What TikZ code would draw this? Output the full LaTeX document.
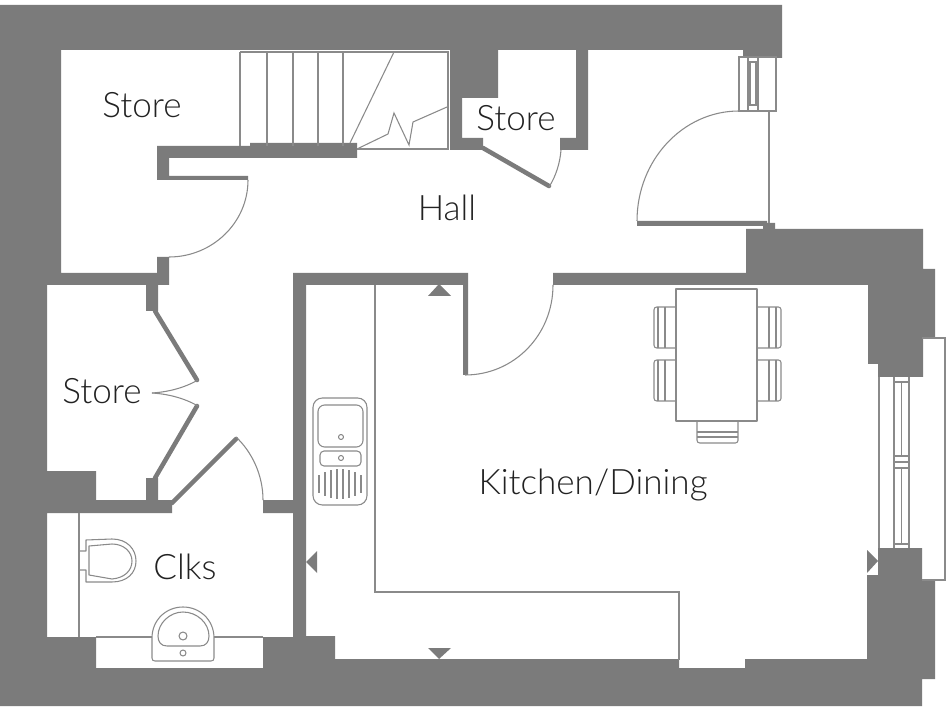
\documentclass[tikz,border=0pt]{standalone}
\usepackage{fontspec}
\setmainfont{Lato Light}
\definecolor{wallgrey}{HTML}{7B7B7B}
\definecolor{linegrey}{HTML}{8A8A8A}
\definecolor{labelgrey}{HTML}{222222}
\tikzset{
	every node/.style={font=\fontsize{26.3pt}{30pt}\selectfont, text=labelgrey, inner sep=0pt}
}
\tikzset{
	wall/.style={fill=wallgrey, draw=none},
	leaf/.style={draw=wallgrey, line width=3.4pt, line cap=round},
	thin/.style={draw=linegrey, line width=0.8pt},
	fit/.style={draw=linegrey, line width=0.8pt, line join=round}
}

\begin{document}
\begin{tikzpicture}[x=0.75pt, y=-0.75pt]
	\useasboundingbox (0,0) rectangle (952,712);

	% walls
	\path[wall] (0,5) -- (782,5) -- (782,58) -- (743,58) -- (743,50) -- (498,50) -- (498,98)
		-- (462,98) -- (462,138) -- (483,138) -- (483,150) -- (450,150) -- (450,50) -- (61,50)
		-- (61,273) -- (157,273) -- (157,257) -- (169,257) -- (169,285) -- (158,285) -- (158,311)
		-- (146,311) -- (146,285) -- (47,285) -- (47,471) -- (96,471) -- (96,500) -- (146,500)
		-- (146,478) -- (158,478) -- (158,500) -- (172,500) -- (172,513) -- (47,513) -- (47,637)
		-- (96,637) -- (96,668) -- (263,668) -- (263,637) -- (293,637) -- (293,513) -- (263,513)
		-- (263,500) -- (293,500) -- (293,273) -- (468,273) -- (468,375) -- (463,375) -- (463,285)
		-- (306,285) -- (306,636) -- (335,636) -- (335,659) -- (679,659) -- (679,668) -- (745,668)
		-- (745,659) -- (867,659) -- (867,575) -- (878,575) -- (878,548) -- (922,548) -- (922,580)
		-- (935,580) -- (935,679) -- (922,679) -- (922,706) -- (0,706) -- cycle;
	\path[wall] (553,273) -- (746,273) -- (746,229) -- (923,229) -- (923,269) -- (935,269)
		-- (935,338) -- (923,338) -- (923,377) -- (878,377) -- (878,364) -- (868,364)
		-- (868,285) -- (553,285) -- cycle;
	\path[wall] (157,146) -- (250,146) -- (250,143) -- (357,143) -- (357,158) -- (169,158)
		-- (169,176) -- (248,176) -- (248,180) -- (157,180) -- cycle;
	\path[wall] (576,45) -- (588,45) -- (588,150) -- (560,150) -- (560,138) -- (576,138) -- cycle;
	\path[wall] (637,221) -- (767,221) -- (767,223) -- (775,223) -- (775,230) -- (763,230)
		-- (763,226) -- (637,226) -- cycle;

	% direction marks
	\path[wall] (428,296) -- (439,284) -- (451,296) -- cycle;
	\path[wall] (428,648) -- (451,648) -- (439,659) -- cycle;
	\path[wall] (317,551) -- (317,573) -- (306,562) -- cycle;
	\path[wall] (867,550) -- (867,573) -- (878,561) -- cycle;

	% door leaves and swings
	\draw[leaf] (155,311) -- (197,380);
	\draw[leaf] (155,478) -- (197,406);
	\draw[leaf] (172,503) -- (236,439);
	\draw[leaf] (483,148) -- (549,186);
	\draw[thin] (198,380) .. controls (184,388) and (168,392) .. (152,393);
	\draw[thin] (198,406) .. controls (184,398) and (168,394) .. (152,393);
	\draw[thin] (236,437) .. controls (252,452) and (263,475) .. (263,500);
	\draw[thin] (248,180) .. controls (248,223) and (212,257) .. (169,257);
	\draw[thin] (553,285) .. controls (553,335) and (514,375) .. (465,375);
	\draw[thin] (739,111) .. controls (683,111) and (637,160) .. (637,221);
	\draw[thin] (549,187) .. controls (556,176) and (560,163) .. (561,150);

	% stairs
	\draw[thin] (240,52) -- (448,52) -- (448,149) -- (357,149);
	\foreach \tread in {240,267,293,318,343}
		\draw[thin] (\tread,52) -- (\tread,146);
	\draw[thin] (350,143) -- (394,52);
	\draw[thin] (357,149) -- (388,134) -- (394,113) -- (409,145) -- (413,122) -- (447,107);

	% front door window
	\draw[thin] (739,57) rectangle (776,111);
	\draw[thin] (748,57) -- (748,111);
	\draw[thin] (758,57) -- (758,111);
	\draw[thin] (750,62) rectangle (756,105);
	\draw[thin] (769,111) -- (769,223);

	% rear window
	\draw[thin] (922,338) -- (945,338) -- (945,580) -- (922,580);
	\draw[thin] (879,377) -- (879,548);
	\draw[thin] (894,377) -- (894,548);
	\draw[thin] (909,377) -- (909,548);
	\foreach \bar in {382,456,462,468,544}
		\draw[thin] (894,\bar) -- (909,\bar);
	\draw[thin] (901.5,382) -- (901.5,456);
	\draw[thin] (901.5,468) -- (901.5,544);

	% worktop
	\draw[thin] (375,285) -- (375,592) -- (679,592) -- (679,660);

	% table and chairs
	\draw[fit] (676,289) rectangle (757,421);
	\foreach \seat in {307,360} {
		\draw[fit] (676,\seat) -- (658,\seat) [rounded corners=2pt] -- (654,\seat) -- (654,\seat+41) [sharp corners] -- (676,\seat+41);
		\draw[fit] (658,\seat) -- (658,\seat+41);
		\draw[fit] (665,\seat) -- (665,\seat+41);
		\draw[fit] (757,\seat) -- (776,\seat) [rounded corners=2pt] -- (781,\seat) -- (781,\seat+41) [sharp corners] -- (757,\seat+41);
		\draw[fit] (769,\seat) -- (769,\seat+41);
		\draw[fit] (776,\seat) -- (776,\seat+41);
	}
	\draw[fit, rounded corners=2pt] (697,421) -- (697,443) -- (738,443) -- (738,421);
	\draw[fit] (697,432) -- (738,432);
	\draw[fit] (697,437) -- (738,437);

	% sink
	\draw[fit, rounded corners=7pt] (313,398) rectangle (367,505);
	\draw[fit, rounded corners=5pt] (318,405) rectangle (363,447);
	\draw[fit, rounded corners=3pt] (320,451) rectangle (361,466);
	\draw[fit] (341,437) circle (2.5);
	\draw[fit] (341,458) circle (2.5);
	\foreach \ridge/\rtop/\rbot in {319/475/493,325/472/496,331/470/498,337/469/499,343/469/499,349/470/498,355/472/496,361/475/493}
		\draw[fit] (\ridge,\rtop) -- (\ridge,\rbot);

	% clks fittings
	\draw[thin] (79,513) -- (79,637);
	\draw[thin] (96,637) -- (152,637);
	\draw[thin] (214,637) -- (263,637);
	\draw[fit] (79,551) -- (86,551) -- (86,540) -- (112,539) .. controls (127,539) and (136,549) .. (136,561)
		.. controls (136,573) and (127,582) .. (112,582) -- (86,582) -- (86,570) -- (79,570);
	\draw[fit] (89,546) -- (112,544) .. controls (124,544) and (132,552) .. (132,561)
		.. controls (132,571) and (124,578) .. (112,579) -- (89,575) -- cycle;
	\draw[fit] (155,661) .. controls (153,661) and (152,660) .. (152,658) -- (152,638)
		.. controls (152,620) and (166,607) .. (183,607) .. controls (200,607) and (214,620) .. (214,638)
		-- (214,658) .. controls (214,660) and (213,661) .. (211,661) -- cycle;
	\draw[fit] (158,636) .. controls (158,623) and (170,612) .. (183,612) .. controls (197,612) and (209,623) .. (209,636)
		.. controls (209,642) and (206,646) .. (200,646) -- (167,646) .. controls (161,646) and (158,642) .. (158,636) -- cycle;
	\draw[fit] (183,636) circle (4);
	\draw[fit] (183,653) circle (3);

	% room names
	\node (storetop) at (142,105) {Store};
	\node (storemid) at (516,118) {Store};
	\node (storelow) at (102,391) {Store};
	\node (hall) at (447,208) {Hall};
	\node (kitchen) at (593,485) {Kitchen/Dining};
	\node (clks) at (185,567) {Clks};
\end{tikzpicture}
\end{document}
